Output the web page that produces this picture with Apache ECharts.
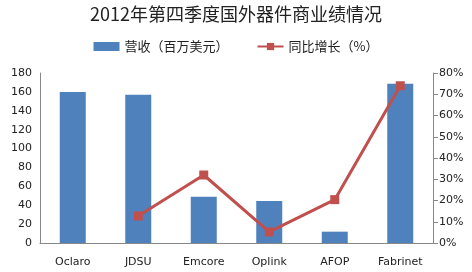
<!DOCTYPE html>
<html><head><meta charset="utf-8">
<script src="https://cdn.jsdelivr.net/npm/echarts@6/dist/echarts.min.js"></script>
<style>html,body{margin:0;padding:0;background:#fff}#c{width:472px;height:272px}</style>
</head><body><div id="c"></div>
<script>
var categories = ['Oclaro','JDSU','Emcore','Oplink','AFOP','Fabrinet'];
var revenue = [160, 157, 49, 44.5, 12, 168.5];
var growth = [null, 12.7, 32, 5.2, 20.4, 74];
var leftTicks = [0,20,40,60,80,100,120,140,160,180];
var rightTicks = ['0%','10%','20%','30%','40%','50%','60%','70%','80%'];

var chart = echarts.init(document.getElementById('c'));
var font = 'Noto Sans CJK SC';
chart.setOption({
  animation:false,
  title:{text:'2012年第四季度国外器件商业绩情况',left:'center',top:0,
    textStyle:{fontSize:18,fontWeight:'normal',color:'#222',fontFamily:font}},
  legend:{top:35,left:'center',itemGap:28,itemWidth:26,itemHeight:9,
    textStyle:{fontSize:13,color:'#222',fontFamily:font},
    data:[{name:'营收（百万美元）',icon:'rect'},{name:'同比增长（%）'}]},
  grid:{left:40,right:39,top:73,bottom:29},
  xAxis:{type:'category',data:categories,
    axisLine:{lineStyle:{color:'#888'}},axisTick:{show:false},
    axisLabel:{fontSize:11,color:'#222',margin:14,fontFamily:'DejaVu Sans'}},
  yAxis:[{type:'value',min:0,max:180,interval:20,
    axisLine:{show:true,lineStyle:{color:'#888'}},axisTick:{show:false},splitLine:{show:false},
    axisLabel:{fontSize:11,color:'#222',margin:8,fontFamily:'DejaVu Sans',
      formatter:function(v){return String(leftTicks[Math.round(v/20)]);}}},
   {type:'value',min:0,max:80,interval:10,position:'right',
    axisLine:{show:true,lineStyle:{color:'#888'}},axisTick:{show:true,inside:false,length:5,lineStyle:{color:'#888'}},splitLine:{show:false},
    axisLabel:{fontSize:11,color:'#222',margin:6,fontFamily:'DejaVu Sans',
      formatter:function(v){return rightTicks[Math.round(v/10)];}}}],
  series:[
   {name:'营收（百万美元）',type:'bar',data:revenue,barWidth:26,itemStyle:{color:'#4f81bd'}},
   {name:'同比增长（%）',type:'line',yAxisIndex:1,data:growth,connectNulls:false,
    symbol:'rect',symbolSize:9,lineStyle:{color:'#c0504d',width:3},itemStyle:{color:'#c0504d'}}
  ]
});
</script></body></html>
